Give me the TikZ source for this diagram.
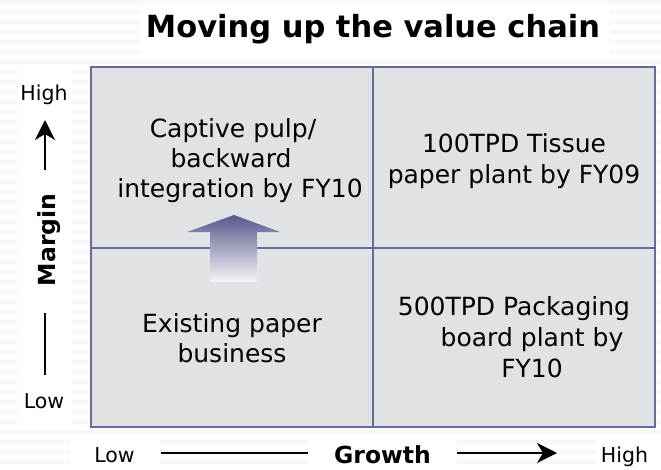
\documentclass[tikz,border=0pt]{standalone}
\usepackage{fontspec}
\setmainfont{DejaVu Sans}
\usetikzlibrary{arrows.meta}

\definecolor{gridline}{RGB}{106,106,154}
\definecolor{cellfill}{RGB}{224,227,230}
\definecolor{stripe}{RGB}{247,247,252}
\definecolor{arrowtop}{RGB}{88,88,140}
\definecolor{arrowbot}{RGB}{244,244,249}

\tikzset{
  celltext/.style={font=\fontsize{25}{30}\selectfont, anchor=base, inner sep=0pt},
  axistext/.style={font=\fontsize{20.5}{24}\selectfont, anchor=base, inner sep=0pt},
  axistitle/.style={font=\bfseries\fontsize{23.5}{28}\selectfont, anchor=base, inner sep=0pt},
  gridrule/.style={draw=gridline, line width=2pt},
  axisrule/.style={line width=2pt, black},
  axistip/.style={-{Stealth[length=20pt,width=20pt,inset=6pt]}},
}

\begin{document}
\begin{tikzpicture}[x=1pt,y=-1pt]
\useasboundingbox (0,0) rectangle (661,469);

% ruled background
\fill[white] (0,0) rectangle (661,469);
\foreach \yy in {0,10,...,460}
  \fill[stripe] (0,\yy) rectangle (661,\yy+4);

% plain panels behind the labels
\fill[white] (140,3) rectangle (610,55);
\fill[white] (18,70) rectangle (72,428);
\fill[white] (70,436) rectangle (160,469);
\fill[white] (309,436) rectangle (457,469);
\fill[white] (597,436) rectangle (661,469);

% title
\node[font=\bfseries\fontsize{30.5}{36}\selectfont, anchor=base, inner sep=0pt]
  (title) at (373,37) {Moving up the value chain};

% the 2x2 matrix
\fill[cellfill] (91,67) rectangle (655,427);
\draw[gridrule] (91,67) rectangle (655,427);
\draw[gridrule] (373,67) -- (373,427);
\draw[gridrule] (91,248) -- (655,248);

% upward move arrow
\shade[top color=arrowtop, bottom color=arrowbot]
  (234,215) -- (280,232) -- (257,232) -- (257,282) -- (210,282)
  -- (210,232) -- (187,232) -- cycle;

% top-left cell
\node[celltext] (tl1) at (233,137) {Captive pulp/};
\node[celltext] (tl2) at (231,167) {backward};
\node[celltext] (tl3) at (240,197) {integration by FY10};

% top-right cell
\node[celltext] (tr1) at (514,152) {100TPD Tissue};
\node[celltext] (tr2) at (514,183) {paper plant by FY09};

% bottom-left cell
\node[celltext] (bl1) at (232,332) {Existing paper};
\node[celltext] (bl2) at (232,362) {business};

% bottom-right cell
\node[celltext] (br1) at (514,315) {500TPD Packaging};
\node[celltext] (br2) at (532,346) {board plant by};
\node[celltext] (br3) at (532,377) {FY10};

% vertical axis: Margin
\node[axistext] (mhigh) at (44,100) {High};
\node[axistext] (mlow) at (44,408) {Low};
\node[axistitle, rotate=90] (margin) at (55,240) {Margin};
\coordinate (mtail) at (45,170);
\coordinate (mtip) at (45,120);
\coordinate (mlineA) at (45,313);
\coordinate (mlineB) at (45,375);
\draw[axisrule, axistip] (mtail) -- (mtip);
\draw[axisrule] (mlineA) -- (mlineB);

% horizontal axis: Growth
\node[axistext] (glow) at (114.5,462) {Low};
\node[axistext] (ghigh) at (624.5,462) {High};
\node[axistitle] (growth) at (382.5,463) {Growth};
\coordinate (glineA) at (161,453);
\coordinate (glineB) at (308,453);
\coordinate (gtail) at (457,453);
\coordinate (gtip) at (557,453);
\draw[axisrule] (glineA) -- (glineB);
\draw[axisrule, axistip] (gtail) -- (gtip);
\end{tikzpicture}
\end{document}
